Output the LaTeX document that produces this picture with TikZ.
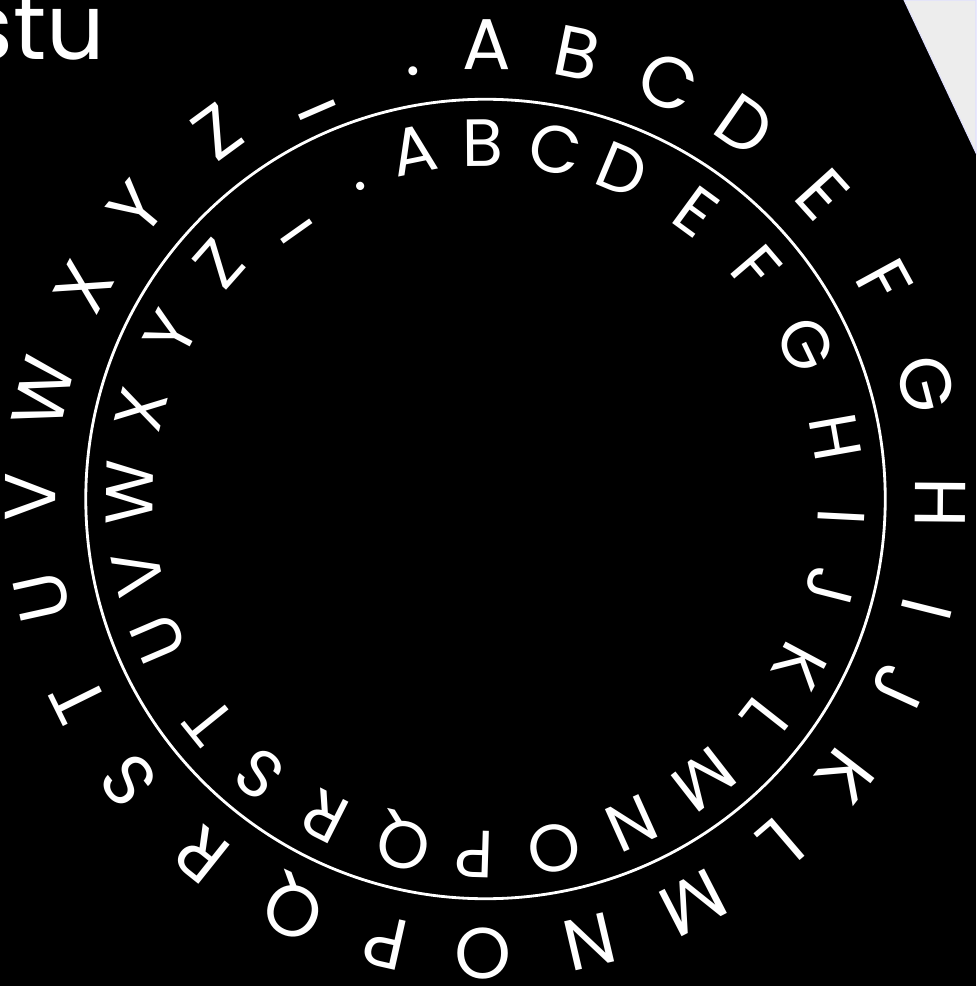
\documentclass[tikz,border=0pt]{standalone}
\usepackage{fontspec}
\setmainfont{Poppins}
\usetikzlibrary{calc}

\begin{document}
\begin{tikzpicture}[
      x=0.01cm,y=0.01cm,
      ring/.style={draw=white,line width=0.8pt},
      outch/.style={text=white,anchor=base,inner sep=0pt,
        font=\fontsize{20.5}{24}\selectfont},
      inch/.style={text=white,anchor=base,inner sep=0pt,
        font=\fontsize{19}{22}\selectfont},
      title/.style={text=white,anchor=base east,inner sep=0pt,
        font=\fontsize{26}{31}\selectfont}
    ]
    \fill[black] (0,0) rectangle (976,-986);
    \useasboundingbox (0,0) rectangle (976,-986);
    % corner of the next slide
    \filldraw[fill=black!7,draw=blue!12,line width=0.3pt]
      (904,0) -- (976,0) -- (976,-153) -- cycle;
    \node[title] (head) at (106,-60) {stu};
    \coordinate (c) at (485.5,-499);
    \draw[ring] (c) circle[radius=3.995cm];
    % outer ring, letters outside the circle
    \foreach \ch/\ang [count=\k] in {./99.6,A/89.8,B/78.4,C/66.3,D/55.2,
        E/42.1,F/28.6,G/14.6,H/-0.5,I/-14.0,J/-24.5,K/-37.6,L/-49.4,
        M/-62.8,N/-76.8,O/-90.3,P/-102.7,Q/-115.0,R/-128.6,S/-141.8,
        T/-153.7,U/-167.5,V/-180.3,W/-193.5,X/-207.8,Y/-219.8,Z/-233.8,
        \_/-246.6}
      \node[outch,rotate=\ang-90] (out\k) at ($(c)+(\ang:429.5)$) {\ch};
    % inner ring, shifted by one letter
    \foreach \ch/\ang [count=\k] in {./111.8,A/101.6,B/90.4,C/78.7,D/67.4,
        E/53.8,F/40.5,G/25.7,H/10.0,I/-2.9,J/-14.3,K/-28.1,L/-38.2,
        M/-52.1,N/-65.8,O/-78.9,P/-91.7,Q/-103.3,R/-116.8,S/-129.4,
        T/-141.1,U/-156.8,V/-167.9,W/-181.0,X/-194.6,Y/-207.7,Z/-221.5,
        \_/-234.7}
      \node[inch,rotate=\ang-90] (in\k) at ($(c)+(\ang:332.5)$) {\ch};
  \end{tikzpicture}
\end{document}
